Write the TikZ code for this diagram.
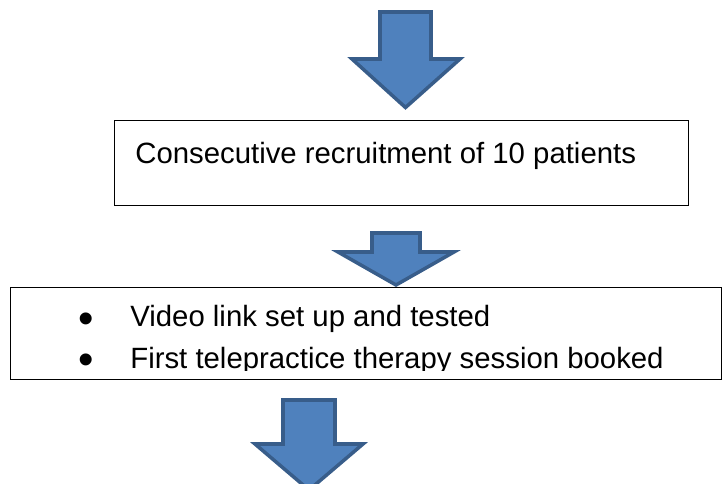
\documentclass[tikz,border=0pt]{standalone}
\usepackage{fontspec}
\setmainfont{Liberation Sans}
\usepackage{tikz}

\definecolor{arrowfill}{HTML}{4F81BD}
\definecolor{arrowline}{HTML}{385D8A}

\begin{document}
\begin{tikzpicture}[x=0.02cm, y=-0.02cm,
  blockarrow/.style={fill=arrowfill, draw=arrowline, line width=2pt},
  flowbox/.style={rectangle, draw, line width=0.8pt, inner sep=0pt, anchor=north west},
  flowtext/.style={inner sep=0pt, anchor=base west, font=\fontsize{16.7}{20}\selectfont},
  bullet/.style={inner sep=0pt, anchor=base, font=\fontsize{16.7}{20}\selectfont}]
\useasboundingbox (0,0) rectangle (725,484);

% Arrows
\draw[blockarrow] (380,12) -- (431,12) -- (431,59) -- (460,59) -- (405.5,107.5) -- (352,59) -- (380,59) -- cycle;
\draw[blockarrow] (372,233) -- (420,233) -- (420,252) -- (454,252) -- (396,285) -- (338,252) -- (372,252) -- cycle;
\draw[blockarrow] (283,400) -- (335,400) -- (335,444) -- (363,444) -- (309,490) -- (255,444) -- (283,444) -- cycle;

% Recruitment box
\node[flowbox, fill=white, minimum width=11.48cm, minimum height=1.7cm] (recruit) at (114,120) {};
\node[flowtext] (recruittext) at (135,163) {Consecutive recruitment of 10 patients};

% Set-up box
\node[flowbox, fill=white, minimum width=14.22cm, minimum height=1.84cm] (setup) at (10,287) {};
\begin{scope}
\clip (setup.north west) rectangle ([yshift=0.19cm]setup.south east);
\node[bullet] (dotA) at (86,333) {\scalebox{1.5}{\textbullet}};
\node[flowtext] (video) at (130,326) {Video link set up and tested};
\node[bullet] (dotB) at (86,374) {\scalebox{1.5}{\textbullet}};
\node[flowtext] (session) at (130,368) {First telepractice therapy session booked};
\end{scope}

\end{tikzpicture}
\end{document}
